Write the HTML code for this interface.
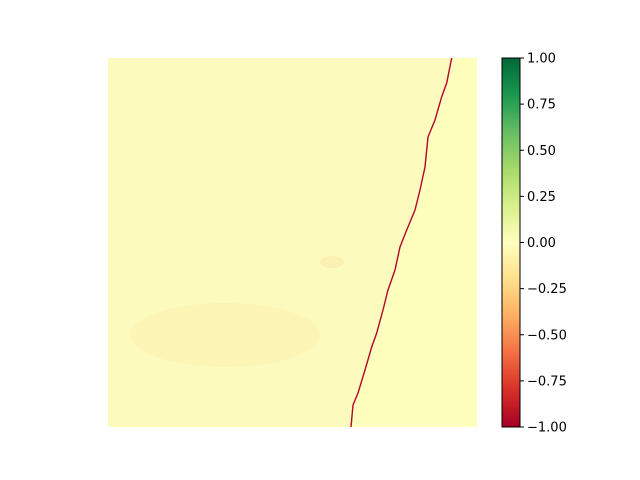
<!DOCTYPE html>
<html><head><meta charset="utf-8"><style>body{margin:0;background:#fff}svg{display:block;font-family:"DejaVu Sans","Liberation Sans",sans-serif}</style></head>
<body>
<svg width="640" height="480" viewBox="0 0 640 480">
<defs>
<linearGradient id="cb" x1="0" y1="1" x2="0" y2="0">
<stop offset="0" stop-color="#a50026"/><stop offset="0.1" stop-color="#d73027"/><stop offset="0.2" stop-color="#f46d43"/><stop offset="0.3" stop-color="#fdae61"/><stop offset="0.4" stop-color="#fee08b"/><stop offset="0.5" stop-color="#ffffbf"/><stop offset="0.6" stop-color="#d9ef8b"/><stop offset="0.7" stop-color="#a6d96a"/><stop offset="0.8" stop-color="#66bd63"/><stop offset="0.9" stop-color="#1a9850"/><stop offset="1" stop-color="#006837"/>
</linearGradient>
</defs>
<g id="plot"></g>
<g id="cbar"></g>
</svg>
<script>
const lineX=[451.7,446.7,441.7,435,428,425,420,415,406.7,400,395,388,383,376.7,371.7,365,358,353,351];
const lineY=[58,83,96.7,120,137,167,190,210,230,247,270,290,310,333,347,370,393,405,427];
const tickVals=[1,0.75,0.5,0.25,0,-0.25,-0.5,-0.75,-1];
const tickLabels=["1.00","0.75","0.50","0.25","0.00","−0.25","−0.50","−0.75","−1.00"];
const NS="http://www.w3.org/2000/svg";
function mk(t,a,p){const e=document.createElementNS(NS,t);for(const k in a)e.setAttribute(k,a[k]);p.appendChild(e);return e;}
const plot=document.getElementById('plot');
const X0=108,X1=477,Y0=58,Y1=427;
const bg=mk('rect',{x:X0,y:Y0,width:X1-X0,height:Y1-Y0,fill:'#fefebd'},plot);


let d='M'+X0+','+Y0;
for(let i=0;i<lineX.length;i++)d+=' L'+lineX[i]+','+lineY[i];
d+=' L'+X0+','+Y1+' Z';
const land=mk('path',{d:d,fill:'#fcfbbd'},plot);


const p1=mk('ellipse',{cx:225,cy:335,rx:95,ry:32,fill:'#fcefb0',opacity:0.5},plot);


const p2=mk('ellipse',{cx:332,cy:262,rx:12,ry:6,fill:'#fbe9ad',opacity:0.7},plot);


let ld='M'+lineX[0]+','+lineY[0];
for(let i=1;i<lineX.length;i++)ld+=' L'+lineX[i]+','+lineY[i];
const ln=mk('path',{d:ld,fill:'none',stroke:'#b4062a','stroke-width':1.4},plot);


const cb=document.getElementById('cbar');
const CX=502,CW=18;
const cr=mk('rect',{x:CX,y:Y0,width:CW,height:Y1-Y0,fill:'url(#cb)',stroke:'#000','stroke-width':1},cb);


function cy(v){return Y1-(v+1)/2*(Y1-Y0);}
tickVals.forEach((v,i)=>{
 const y=cy(v);
 const t=mk('line',{x1:CX+CW,x2:CX+CW+4,y1:y,y2:y,stroke:'#000','stroke-width':1},cb);
 
 
 const tx=mk('text',{x:CX+CW+7,y:y+4.5,'font-size':13,fill:'#000'},cb);
 tx.textContent=tickLabels[i];
 
 
});
</script>
</body></html>
